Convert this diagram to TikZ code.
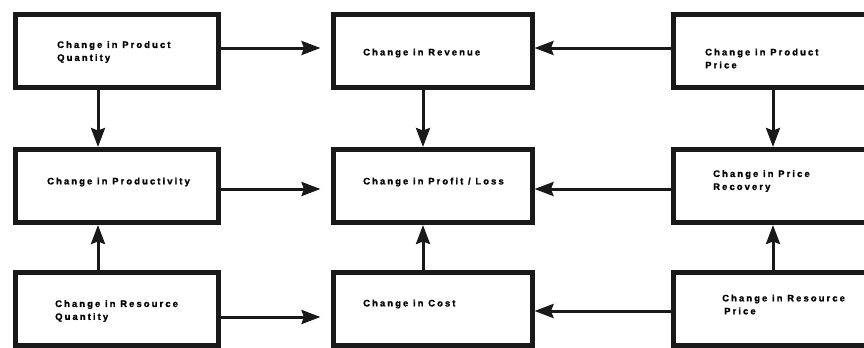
\documentclass[tikz,border=0pt]{standalone}
\usepackage{fontspec}
\setmainfont{Liberation Sans}[LetterSpace=22, FakeBold=1.2]
\usetikzlibrary{arrows.meta}
\begin{document}
\begin{tikzpicture}[x=1bp,y=-1bp,
  box/.style={draw=black!90, line width=5bp, rectangle, inner sep=0pt,
              minimum height=73bp},
  lbl/.style={font=\bfseries\fontsize{9.5}{13}\selectfont, align=left,
              inner sep=0pt, anchor=west},
  arr/.style={draw=black!90, line width=3bp,
              -{Stealth[length=19bp,width=14bp,inset=2.5bp]}},
  gap/.style={shorten >=10bp}]
\useasboundingbox (0,0) rectangle (864,347);
\clip (0,0) rectangle (864,347);

% three columns of boxes, three rows
\node[box, minimum width=202.5bp] (b11) at (116.75,51) {};
\node[box, minimum width=199bp]   (b12) at (432.5,51) {};
\node[box, minimum width=207bp]   (b13) at (776.5,51) {};
\node[box, minimum width=202.5bp] (b21) at (116.75,186) {};
\node[box, minimum width=199bp]   (b22) at (432.5,186) {};
\node[box, minimum width=207bp]   (b23) at (776.5,186) {};
\node[box, minimum width=202.5bp] (b31) at (116.75,309) {};
\node[box, minimum width=199bp]   (b32) at (432.5,309) {};
\node[box, minimum width=207bp]   (b33) at (776.5,309) {};

% labels
\node[lbl] (t11) at (57,52)    {Change in Product\\Quantity};
\node[lbl] (t12) at (363,53)   {Change in Revenue};
\node[lbl] (t13) at (705,58.5) {Change in Product\\Price};
\node[lbl] (t21) at (47,182)   {Change in Productivity};
\node[lbl] (t22) at (363,182)  {Change in Profit / Loss};
\node[lbl] (t23) at (713,181)  {Change in Price\\Recovery};
\node[lbl] (t31) at (55,311)   {Change in Resource\\Quantity};
\node[lbl] (t32) at (363,304)  {Change in Cost};
\node[lbl] (t33) at (722,304.5){Change in Resource\\\hspace{2bp}Price};

% connector levels
\coordinate (h1)  at (0,48);
\coordinate (h2)  at (0,189);
\coordinate (h3l) at (0,317);
\coordinate (h3r) at (0,311);
\coordinate (v1)  at (98,0);
\coordinate (v2)  at (423,0);
\coordinate (v3)  at (773,0);

% horizontal connectors
\draw[arr, gap] (b11.east |- h1) -- (b12.west |- h1);
\draw[arr]      (b13.west |- h1) -- (b12.east |- h1);
\draw[arr, gap] (b21.east |- h2) -- (b22.west |- h2);
\draw[arr]      (b23.west |- h2) -- (b22.east |- h2);
\draw[arr, gap] (b31.east |- h3l) -- (b32.west |- h3l);
\draw[arr]      (b33.west |- h3r) -- (b32.east |- h3r);

% vertical connectors
\draw[arr] (b11.south -| v1) -- (b21.north -| v1);
\draw[arr] (b12.south -| v2) -- (b22.north -| v2);
\draw[arr] (b13.south -| v3) -- (b23.north -| v3);
\draw[arr] (b31.north -| v1) -- (b21.south -| v1);
\draw[arr] (b32.north -| v2) -- (b22.south -| v2);
\draw[arr] (b33.north -| v3) -- (b23.south -| v3);
\end{tikzpicture}
\end{document}
